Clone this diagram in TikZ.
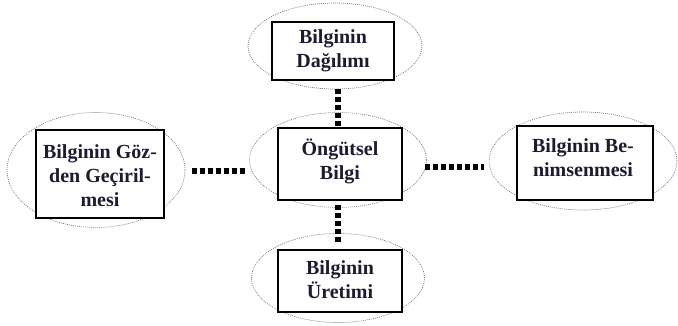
\documentclass[tikz,border=0pt]{standalone}
\usepackage{fontspec}
\usetikzlibrary{shapes.geometric}
\setmainfont{Liberation Serif}
\definecolor{txtc}{RGB}{28,28,48}
\definecolor{ellc}{RGB}{120,120,120}
\begin{document}
\begin{tikzpicture}[x=1pt,y=-1pt,
  ell/.style={ellipse,draw=ellc,line width=0.7pt,dash pattern=on 0.9pt off 1.1pt,inner sep=0pt},
  box/.style={rectangle,draw=black,line width=1.4pt,fill=white,inner sep=0pt},
  lbl/.style={align=center,inner sep=0pt,text=txtc,font=\bfseries\fontsize{20}{24}\selectfont},
  conn/.style={line width=5.5pt,dash pattern=on 5pt off 3pt,black}]
\useasboundingbox (0,0) rectangle (678,325);
% ellipses
\node[ell,minimum width=174pt,minimum height=86pt] (eT) at (335,46) {};
\node[ell,minimum width=177pt,minimum height=95pt] (eC) at (338,160) {};
\node[ell,minimum width=173pt,minimum height=89pt] (eB) at (338,278) {};
\node[ell,minimum width=178pt,minimum height=115pt] (eL) at (96,170) {};
\node[ell,minimum width=188pt,minimum height=98pt] (eR) at (583,161) {};
% boxes
\node[box,minimum width=122pt,minimum height=58pt] (bT) at (333,51) {};
\node[box,minimum width=124pt,minimum height=72pt] (bC) at (340,164) {};
\node[box,minimum width=124pt,minimum height=62pt] (bB) at (340,281) {};
\node[box,minimum width=128pt,minimum height=88pt] (bL) at (100,174) {};
\node[box,minimum width=136pt,minimum height=74pt] (bR) at (585,163) {};
% labels
\node[lbl] (tT) at (333,51) {Bilginin\\Dağılımı};
\node[lbl] (tC) at (340,161) {Öngütsel\\Bilgi};
\node[lbl] (tB) at (340,280) {Bilginin\\Üretimi};
\node[lbl] (tL) at (100,176) {Bilginin Göz-\\den Geçiril-\\mesi};
\node[lbl] (tR) at (583,158) {Bilginin Be-\\nimsenmesi};
% connector end points
\coordinate (cT1) at (338,89);
\coordinate (cT2) at (338,127);
\coordinate (cB1) at (338,205);
\coordinate (cB2) at (338,243);
\coordinate (cL1) at (192,171);
\coordinate (cL2) at (247,171);
\coordinate (cR1) at (425,167);
\coordinate (cR2) at (484,167);
\draw[conn] (cT1) -- (cT2);
\draw[conn] (cB1) -- (cB2);
\draw[conn] (cL1) -- (cL2);
\draw[conn] (cR1) -- (cR2);
\end{tikzpicture}
\end{document}
